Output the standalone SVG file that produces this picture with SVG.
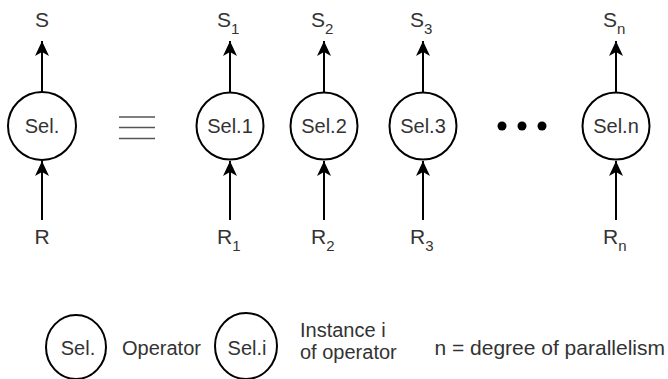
<svg xmlns="http://www.w3.org/2000/svg" width="668" height="379" viewBox="0 0 668 379">
<defs>
<marker id="arr" viewBox="0 0 16 14" markerWidth="16" markerHeight="14" refX="15" refY="7" orient="auto" markerUnits="userSpaceOnUse">
<path d="M0,0 L15,7 L0,14 L4,7 Z" fill="#000"/>
</marker>
<style>
.node{fill:#fff;stroke:#000;stroke-width:2}
.lbl{font-family:"Liberation Sans",Arial,sans-serif;font-size:20px;fill:#333;text-anchor:middle}
.io{font-family:"Liberation Sans",Arial,sans-serif;font-size:21px;fill:#333}
.sub{font-size:15px}
.leg{font-family:"Liberation Sans",Arial,sans-serif;font-size:20px;fill:#333}
.edge{stroke:#000;stroke-width:2;fill:none;marker-end:url(#arr)}
.eq{stroke:#555;stroke-width:1.5}
</style>
</defs>
<rect width="668" height="379" fill="#fff"/>
<g id="connectors">
<line class="edge" x1="42" y1="92" x2="42" y2="41"/>
<line class="edge" x1="42" y1="220" x2="42" y2="161"/>
<line class="edge" x1="230" y1="92" x2="230" y2="41"/>
<line class="edge" x1="230" y1="220" x2="230" y2="161"/>
<line class="edge" x1="324" y1="92" x2="324" y2="41"/>
<line class="edge" x1="324" y1="220" x2="324" y2="161"/>
<line class="edge" x1="423" y1="92" x2="423" y2="41"/>
<line class="edge" x1="423" y1="220" x2="423" y2="161"/>
<line class="edge" x1="616" y1="92" x2="616" y2="41"/>
<line class="edge" x1="616" y1="220" x2="616" y2="161"/>
</g>
<g id="sel">
<circle class="node" cx="42" cy="126" r="34"/>
<text class="lbl" x="42" y="133">Sel.</text>
</g>
<g id="equiv">
<line class="eq" x1="119" y1="117" x2="155" y2="117" stroke="#111"/>
<line class="eq" x1="119" y1="127.5" x2="155" y2="127.5"/>
<line class="eq" x1="119" y1="138.5" x2="155" y2="138.5"/>
</g>
<g id="sel1">
<circle class="node" cx="230" cy="126" r="33.5"/>
<text class="lbl" x="230" y="133">Sel.1</text>
</g>
<g id="sel2">
<circle class="node" cx="324" cy="126" r="33.5"/>
<text class="lbl" x="324" y="133">Sel.2</text>
</g>
<g id="sel3">
<circle class="node" cx="423" cy="126" r="33.5"/>
<text class="lbl" x="423" y="133">Sel.3</text>
</g>
<g id="dots" fill="#000">
<circle cx="502" cy="126" r="4.5"/>
<circle cx="522" cy="126" r="4.5"/>
<circle cx="542" cy="126" r="4.5"/>
</g>
<g id="seln">
<circle class="node" cx="616" cy="126" r="33.5"/>
<text class="lbl" x="616" y="133">Sel.n</text>
</g>
<g id="labels">
<text class="io" x="42" y="27" text-anchor="middle">S</text>
<text class="io" x="42" y="244" text-anchor="middle">R</text>
<text class="io" x="217" y="27">S<tspan class="sub" dy="7">1</tspan></text>
<text class="io" x="311" y="27">S<tspan class="sub" dy="7">2</tspan></text>
<text class="io" x="410" y="27">S<tspan class="sub" dy="7">3</tspan></text>
<text class="io" x="603" y="27">S<tspan class="sub" dy="7">n</tspan></text>
<text class="io" x="217" y="244">R<tspan class="sub" dy="7">1</tspan></text>
<text class="io" x="311" y="244">R<tspan class="sub" dy="7">2</tspan></text>
<text class="io" x="410" y="244">R<tspan class="sub" dy="7">3</tspan></text>
<text class="io" x="603" y="244">R<tspan class="sub" dy="7">n</tspan></text>
</g>
<g id="legend-operator">
<ellipse class="node" cx="76" cy="347" rx="30" ry="32"/>
<text class="lbl" x="78" y="355">Sel.</text>
<text class="leg" x="122" y="355">Operator</text>
</g>
<g id="legend-instance">
<ellipse class="node" cx="246" cy="346" rx="31" ry="33"/>
<text class="lbl" x="247" y="355">Sel.i</text>
<text class="leg" x="300" y="337">Instance i</text>
<text class="leg" x="300" y="359">of operator</text>
</g>
<g id="legend-n">
<text class="leg" x="665" y="355" text-anchor="end" style="font-size:21px">n = degree of parallelism</text>
</g>
</svg>
